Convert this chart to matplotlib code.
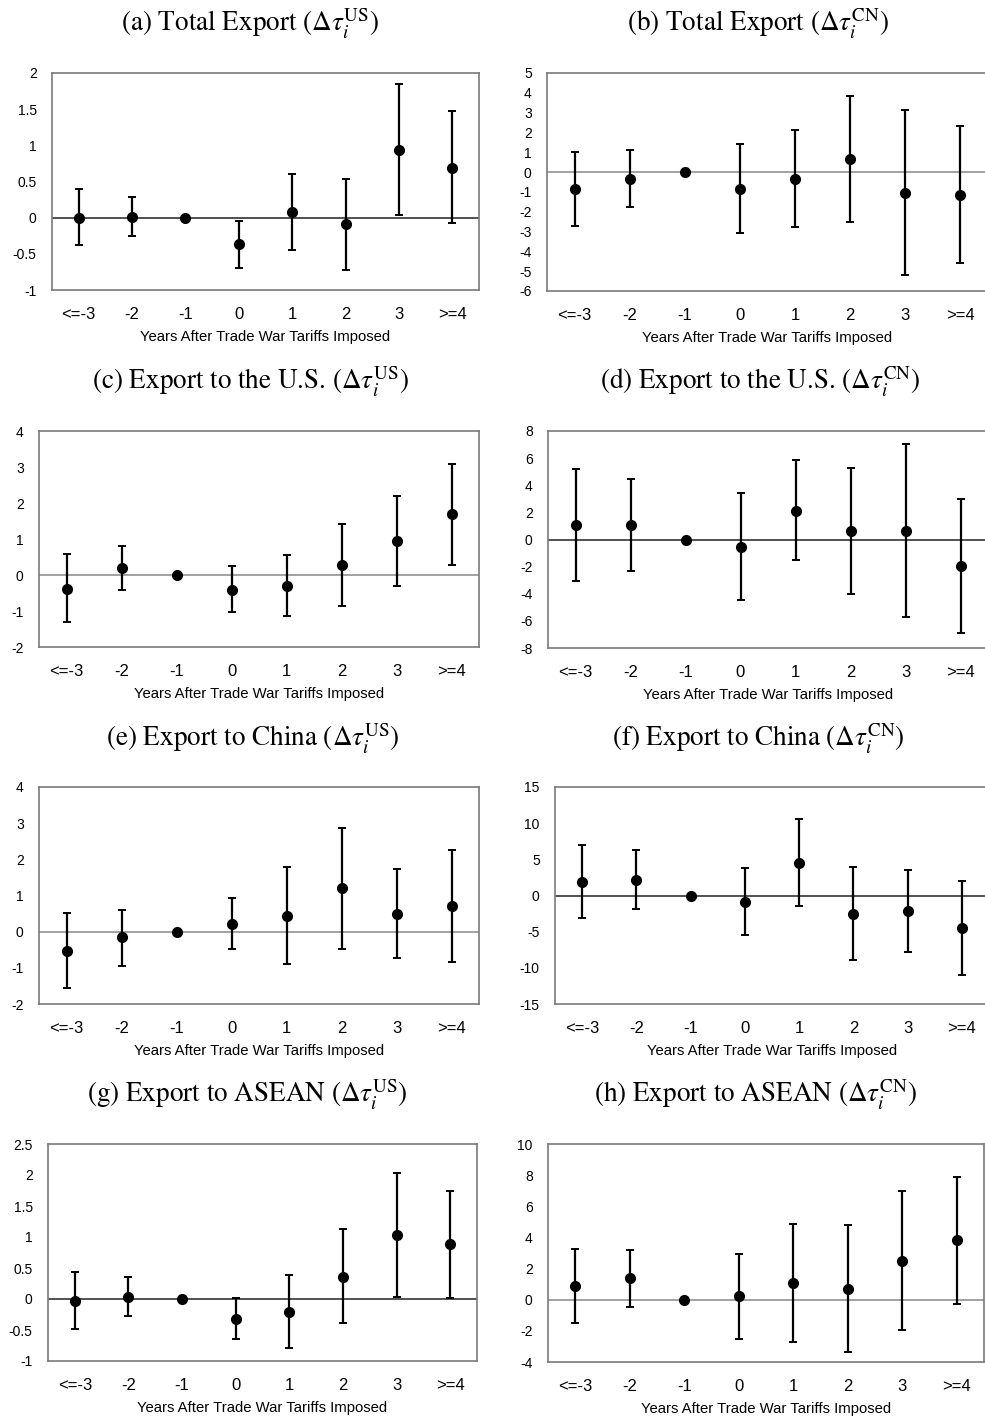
import matplotlib
matplotlib.use('Agg')
import matplotlib.pyplot as plt
import numpy as np

plt.rcParams['axes.unicode_minus'] = False
plt.rcParams['mathtext.fontset'] = 'stix'

cats = ['<=-3', '-2', '-1', '0', '1', '2', '3', '>=4']

# point estimates and 95% bounds
a_est = [0.0, 0.01, 0.0, -0.37, 0.08, -0.09, 0.94, 0.69]
a_hi = [0.39, 0.29, 0.0, -0.05, 0.61, 0.54, 1.85, 1.47]
a_lo = [-0.38, -0.26, 0.0, -0.69, -0.45, -0.72, 0.03, -0.07]

b_est = [-0.87, -0.34, 0.0, -0.86, -0.34, 0.64, -1.04, -1.14]
b_hi = [0.99, 1.13, 0.0, 1.40, 2.14, 3.82, 3.11, 2.34]
b_lo = [-2.74, -1.78, 0.0, -3.08, -2.79, -2.51, -5.17, -4.58]

c_est = [-0.38, 0.19, 0.0, -0.42, -0.31, 0.29, 0.94, 1.69]
c_hi = [0.57, 0.80, 0.0, 0.24, 0.56, 1.43, 2.19, 3.09]
c_lo = [-1.31, -0.42, 0.0, -1.04, -1.15, -0.86, -0.30, 0.28]

d_est = [1.08, 1.06, 0.0, -0.54, 2.11, 0.64, 0.61, -1.96]
d_hi = [5.23, 4.49, 0.0, 3.44, 5.84, 5.28, 7.02, 2.99]
d_lo = [-3.04, -2.33, 0.0, -4.44, -1.52, -4.00, -5.74, -6.87]

e_est = [-0.53, -0.16, 0.0, 0.22, 0.43, 1.20, 0.49, 0.71]
e_hi = [0.51, 0.60, 0.0, 0.92, 1.79, 2.88, 1.73, 2.27]
e_lo = [-1.56, -0.94, 0.0, -0.47, -0.90, -0.47, -0.74, -0.84]

f_est = [1.88, 2.16, 0.0, -0.83, 4.50, -2.53, -2.16, -4.55]
f_hi = [6.94, 6.34, 0.0, 3.86, 10.56, 4.00, 3.58, 2.02]
f_lo = [-3.08, -1.93, 0.0, -5.47, -1.47, -8.96, -7.85, -11.02]

g_est = [-0.03, 0.04, 0.0, -0.32, -0.21, 0.36, 1.03, 0.88]
g_hi = [0.43, 0.36, 0.0, 0.02, 0.39, 1.13, 2.03, 1.74]
g_lo = [-0.49, -0.28, 0.0, -0.65, -0.79, -0.39, 0.03, 0.02]

h_est = [0.86, 1.37, 0.0, 0.21, 1.05, 0.71, 2.51, 3.81]
h_hi = [3.23, 3.19, 0.0, 2.93, 4.88, 4.80, 6.98, 7.90]
h_lo = [-1.50, -0.45, 0.0, -2.53, -2.72, -3.36, -1.95, -0.26]

titles = [r'(a) Total Export ($\Delta\tau_i^{\mathrm{US}}$)',
          r'(b) Total Export ($\Delta\tau_i^{\mathrm{CN}}$)',
          r'(c) Export to the U.S. ($\Delta\tau_i^{\mathrm{US}}$)',
          r'(d) Export to the U.S. ($\Delta\tau_i^{\mathrm{CN}}$)',
          r'(e) Export to China ($\Delta\tau_i^{\mathrm{US}}$)',
          r'(f) Export to China ($\Delta\tau_i^{\mathrm{CN}}$)',
          r'(g) Export to ASEAN ($\Delta\tau_i^{\mathrm{US}}$)',
          r'(h) Export to ASEAN ($\Delta\tau_i^{\mathrm{CN}}$)']

W, H = 985, 1418
fig = plt.figure(figsize=(W / 100, H / 100), dpi=100)

# pixel boxes: left, right, top, bottom
boxes = [(52, 479, 73, 290), (547, 988, 73, 291),
         (39, 479, 431, 647), (548, 988, 431, 648),
         (39, 479, 787, 1004), (555, 989, 787, 1004),
         (48, 477, 1144, 1361), (548, 984, 1144, 1362)]
yticks = [np.arange(-1, 2.01, 0.5), np.arange(-6, 5.1, 1),
          np.arange(-2, 4.1, 1), np.arange(-8, 8.1, 2),
          np.arange(-2, 4.1, 1), np.arange(-15, 15.1, 5),
          np.arange(-1, 2.51, 0.5), np.arange(-4, 10.1, 2)]
zero_col = ['#222222', '#888888', '#888888', '#222222',
            '#888888', '#222222', '#222222', '#888888']
title_pos = [(250, 32), (758, 32), (250, 390), (760, 390),
             (253, 747), (758, 747), (247, 1103), (755, 1103)]

data = [(a_est, a_lo, a_hi), (b_est, b_lo, b_hi), (c_est, c_lo, c_hi),
        (d_est, d_lo, d_hi), (e_est, e_lo, e_hi), (f_est, f_lo, f_hi),
        (g_est, g_lo, g_hi), (h_est, h_lo, h_hi)]

x = np.arange(len(cats))
for i in range(8):
    l, r, t, b = boxes[i]
    ax = fig.add_axes([l / W, 1 - b / H, (r - l) / W, (b - t) / H])
    est, lo, hi = [np.array(v) for v in data[i]]
    ax.axhline(0, color=zero_col[i], lw=1.1, zorder=1)
    ax.errorbar(x, est, yerr=[est - lo, hi - est], fmt='o', color='black',
                ms=7, elinewidth=1.6, capsize=3, capthick=1.4, zorder=3)
    ax.set_xlim(-0.5, 7.5)
    ax.set_ylim(yticks[i][0], yticks[i][-1])
    ax.set_yticks(yticks[i])
    ax.set_yticklabels(['%g' % v for v in yticks[i]])
    ax.set_xticks(x)
    ax.set_xticklabels(cats)
    ax.tick_params(axis='y', length=0, labelsize=10, pad=11)
    ax.tick_params(axis='x', length=0, labelsize=12, pad=12)
    for lab in ax.get_xticklabels() + ax.get_yticklabels():
        lab.set_fontfamily('Liberation Sans')
    for s in ax.spines.values():
        s.set_color('#7a7a7a')
        s.set_linewidth(1.2)
    ax.set_xlabel('Years After Trade War Tariffs Imposed', fontsize=10.7,
                  family='Liberation Sans', labelpad=6)
    tx, ty = title_pos[i]
    fig.text(tx / W, 1 - ty / H, titles[i], ha='center', va='baseline',
             fontsize=19.5, family='STIXGeneral')

fig.savefig('out.png', dpi=100)
